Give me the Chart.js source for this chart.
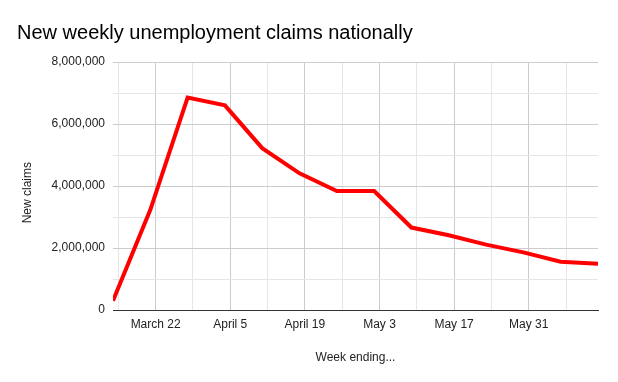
<!DOCTYPE html>
<html>
<head>
<meta charset="utf-8">
<script src="https://cdn.jsdelivr.net/npm/chart.js@4/dist/chart.umd.min.js"></script>
<style>
  body { margin: 0; background: #fff; }
  canvas { display: block; }
</style>
</head>
<body>
<canvas id="grafico" width="618" height="382"></canvas>
<script>
const weekEnding = ["2020-03-14", "2020-03-21", "2020-03-28", "2020-04-04", "2020-04-11", "2020-04-18", "2020-04-25",
                    "2020-05-02", "2020-05-09", "2020-05-16", "2020-05-23", "2020-05-30", "2020-06-06", "2020-06-13"];
const newClaims = [300000, 3230000, 6850000, 6600000, 5220000, 4410000, 3840000,
                   3840000, 2660000, 2410000, 2110000, 1860000, 1560000, 1490000];

const tickDates = ["2020-03-15", "2020-03-22", "2020-03-29", "2020-04-05", "2020-04-12", "2020-04-19", "2020-04-26",
                   "2020-05-03", "2020-05-10", "2020-05-17", "2020-05-24", "2020-05-31", "2020-06-07"];
const tickLabels = ["", "March 22", "", "April 5", "", "April 19", "", "May 3", "", "May 17", "", "May 31", ""];

const dayNum = s => Date.parse(s + "T00:00:00Z") / 86400000;
const FONT = "'Liberation Sans', Arial, sans-serif";

const ctx = document.getElementById("grafico").getContext("2d");

new Chart(ctx, {
    type: "line",
    data: {
        datasets: [{
            label: "New claims",
            data: weekEnding.map((d, i) => ({ x: dayNum(d), y: newClaims[i] })),
            borderColor: "#ff0000",
            borderWidth: 4,
            pointRadius: 0,
            tension: 0,
            fill: false
        }]
    },
    options: {
        responsive: false,
        animation: false,
        devicePixelRatio: 1,
        layout: { padding: { left: 17, right: 20, top: 0, bottom: 0 } },
        plugins: {
            legend: { display: false },
            tooltip: { enabled: false },
            title: {
                display: true,
                text: "New weekly unemployment claims nationally",
                align: "start",
                color: "#000",
                font: { family: FONT, size: 20, weight: "normal" },
                padding: { top: 21, bottom: 17 }
            }
        },
        scales: {
            x: {
                type: "linear",
                min: dayNum(weekEnding[0]),
                max: dayNum(weekEnding[weekEnding.length - 1]),
                afterBuildTicks: scale => {
                    scale.ticks = tickDates.map(d => ({ value: dayNum(d) }));
                },
                afterFit: scale => { scale.height = 72; },
                ticks: {
                    autoSkip: false,
                    maxRotation: 0,
                    padding: 7,
                    color: "#222",
                    font: { family: FONT, size: 12 },
                    callback: (v, i) => tickLabels[i]
                },
                grid: {
                    drawTicks: false,
                    color: c => tickLabels[c.index] ? "#cccccc" : "#e6e6e6"
                },
                border: { display: true, color: "#333", width: 1 },
                title: {
                    display: true,
                    text: "Week ending...",
                    color: "#222",
                    font: { family: FONT, size: 12 },
                    padding: { top: 4, bottom: 17 }
                }
            },
            y: {
                min: 0,
                max: 8000000,
                afterFit: scale => { scale.width = 96; },
                ticks: {
                    stepSize: 1000000,
                    padding: 8,
                    color: "#222",
                    font: { family: FONT, size: 12 },
                    callback: v => v % 2000000 === 0 ? v.toLocaleString("en-US") : ""
                },
                grid: {
                    drawTicks: false,
                    color: c => c.tick.value % 2000000 === 0 ? "#cccccc" : "#e6e6e6"
                },
                border: { display: false },
                title: {
                    display: true,
                    text: "New claims    ",
                    color: "#222",
                    font: { family: FONT, size: 12 },
                    padding: { top: 3, bottom: 0 }
                }
            }
        }
    }
});
</script>
</body>
</html>
